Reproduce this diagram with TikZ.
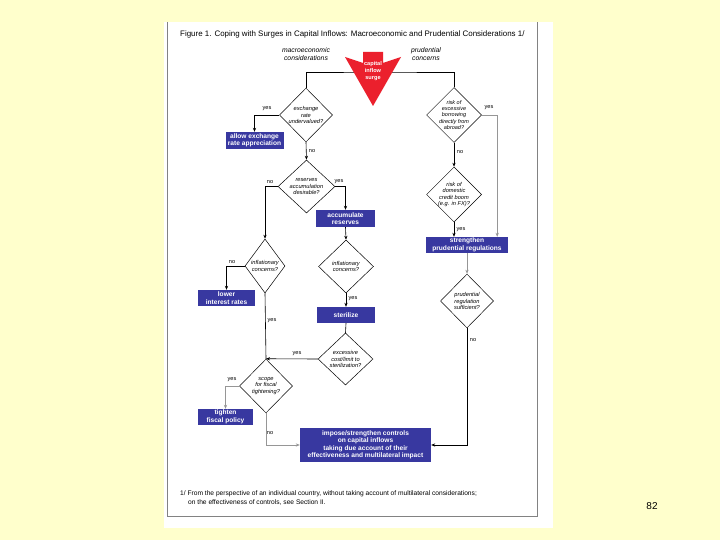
\documentclass[tikz,border=0pt]{standalone}
\usepackage{fontspec}
\setmainfont{Liberation Sans}
\usetikzlibrary{shapes.geometric,arrows.meta,calc}
\definecolor{bgyellow}{RGB}{255,255,204}
\definecolor{boxblue}{RGB}{56,56,160}
\definecolor{surgered}{RGB}{235,32,45}
\definecolor{framegray}{RGB}{130,130,130}
\definecolor{linegray}{RGB}{150,150,150}
\begin{document}
\begin{tikzpicture}[x=1pt,y=-1pt,
  dia/.style n args={2}{draw=black,line width=0.5pt,shape=diamond,inner sep=0pt,minimum width=#1,minimum height=#2},
  dtxt/.style={font=\fontsize{5.7}{6.6}\selectfont\itshape,align=center,inner sep=0pt},
  bluebox/.style n args={2}{fill=boxblue,text=white,font=\fontsize{6.6}{7.5}\selectfont\bfseries,align=center,inner sep=0pt,minimum width=#1,minimum height=#2},
  lbl/.style={font=\fontsize{5.6}{6.5}\selectfont,inner sep=0pt},
  conn/.style={line width=0.6pt,black},
  gconn/.style={line width=0.6pt,linegray},
  arr/.style={-{Stealth[length=4pt,width=3.2pt]}},
  note/.style={font=\fontsize{6.65}{8}\selectfont,inner sep=0pt,anchor=west}
]
% background and page
\fill[bgyellow] (0,0) rectangle (720,540);
\fill[white] (164,22) rectangle (553,528);
\draw[framegray,line width=0.7pt] (167,22) -- (167,516) -- (537,516) -- (537,22);

% title
\node[font=\fontsize{7.95}{9}\selectfont,inner sep=0pt,anchor=west] (title) at (180,34)
  {Figure 1. Coping with Surges in Capital Inflows: Macroeconomic and Prudential Considerations 1/};

% column headings
\node[font=\fontsize{6.8}{8}\selectfont\itshape,align=center,inner sep=0pt] (macro) at (306,54) {macroeconomic\\considerations};
\node[font=\fontsize{6.8}{8}\selectfont\itshape,align=center,inner sep=0pt] (prudh) at (426,54) {prudential\\concerns};

% diamonds
\node[dia={53}{54}] (ex) at (306,115) {};
\node[dtxt] at (ex) {exchange\\rate\\undervalued?};
\node[dia={57}{53}] (res) at (306.5,186.5) {};
\node[dtxt] at (res) {reserves\\accumulation\\desirable?};
\node[dia={40}{54}] (inflL) at (265,266) {};
\node[dtxt] at (inflL) {inflationary\\concerns?};
\node[dia={55}{53}] (inflR) at (346,266.5) {};
\node[dtxt] at (inflR) {inflationary\\concerns?};
\node[dia={55}{52}] (cost) at (345.5,359) {};
\node[dtxt] at (cost) {excessive\\cost/limit to\\sterilization?};
\node[dia={53}{54}] (fisc) at (266,386) {};
\node[dtxt] at (fisc) {scope\\for fiscal\\tightening?};
\node[dia={55}{55}] (bor) at (454,115) {};
\node[dtxt,font=\fontsize{5.5}{6.3}\selectfont\itshape] at (bor) {risk of\\excessive\\borrowing\\directly from\\abroad?};
\node[dia={55}{55}] (dom) at (454,194.5) {};
\node[dtxt] at (dom) {risk of\\domestic\\credit boom\\(e.g. in FX)?};
\node[dia={53}{54}] (prud) at (467,301) {};
\node[dtxt] at (prud) {prudential\\regulation\\sufficient?};

% boxes
\node[bluebox={58}{17}] (appr) at (254.5,140.5) {allow exchange\\rate appreciation};
\node[bluebox={59}{17}] (accum) at (345.5,218.5) {accumulate\\reserves};
\node[bluebox={57}{16}] (lower) at (226.5,298) {lower\\interest rates};
\node[bluebox={58}{16}] (steril) at (346,315) {sterilize};
\node[bluebox={55}{16}] (tight) at (225.5,417) {tighten\\fiscal policy};
\node[bluebox={82}{16}] (streng) at (467,245) {strengthen\\prudential regulations};
\node[bluebox={131}{34}] (ctrl) at (365.5,445) {impose/strengthen controls\\on capital inflows\\taking due account of their\\effectiveness and multilateral impact};

% top split line
\coordinate (split) at (380,72);
\draw[conn] (ex.north) |- (split) -| (bor.north);

% red surge arrow
\fill[surgered] (363,52) -- (383,52) -- (383,63) -- (401,57) -- (373,106) -- (345,57) -- (363,63) -- cycle;
\node[font=\fontsize{5.6}{7}\selectfont\bfseries,text=white,align=center,inner sep=0pt] (surge) at (373,71) {capital\\inflow\\surge};

% connectors, left column
\draw[conn,arr] (ex.west) -| (appr.north);
\draw[conn,arr] (ex.south) -- (res.north);
\draw[conn,arr] (res.west) -| (inflL.north);
\draw[conn,arr] (res.east) -| (accum.north);
\draw[conn,arr] (accum.south) -- (inflR.north);
\draw[conn,arr] (inflL.west) -| (lower.north);
\draw[conn] (inflL.south) -- (fisc.north);
\draw[conn,arr] (inflR.south) -- (steril.north);
\draw[conn] (steril.south) -- (cost.north);
\draw[conn,arr] (cost.west) -- (fisc.north);
\draw[gconn,arr] (fisc.west) -| (tight.north);
\draw[gconn,arr] (fisc.south) |- (ctrl.west);

% connectors, right column
\coordinate (bortarget) at ($(streng.north east)+(-11,0)$);
\draw[gconn,arr] (bor.east) -| (bortarget);
\draw[conn,arr] (bor.south) -- (dom.north);
\draw[conn,arr] (dom.south) -- (dom.south |- streng.north);
\draw[gconn,arr] (streng.south) -- (prud.north);
\draw[conn,arr] (prud.south) |- (ctrl.east);

% labels
\node[lbl] (l1) at (267,109) {yes};
\node[lbl] (l2) at (312,151) {no};
\node[lbl] (l3) at (270,182) {no};
\node[lbl] (l4) at (339,182) {yes};
\node[lbl] (l5) at (232,262) {no};
\node[lbl] (l6) at (272,321) {yes};
\node[lbl] (l7) at (353,299) {yes};
\node[lbl] (l8) at (297,354) {yes};
\node[lbl] (l9) at (232,380) {yes};
\node[lbl] (l10) at (270,433) {no};
\node[lbl] (l11) at (489,108) {yes};
\node[lbl] (l12) at (460,152) {no};
\node[lbl] (l13) at (461,230) {yes};
\node[lbl] (l14) at (473,340) {no};

% footnote
\node[note] (fn1) at (180,494) {1/ From the perspective of an individual country, without taking account of multilateral considerations;};
\node[note] (fn2) at (188,503) {on the effectiveness of controls, see Section II.};

% page number
\node[font=\fontsize{10}{12}\selectfont,inner sep=0pt] (pg) at (652,506) {82};
\end{tikzpicture}
\end{document}
